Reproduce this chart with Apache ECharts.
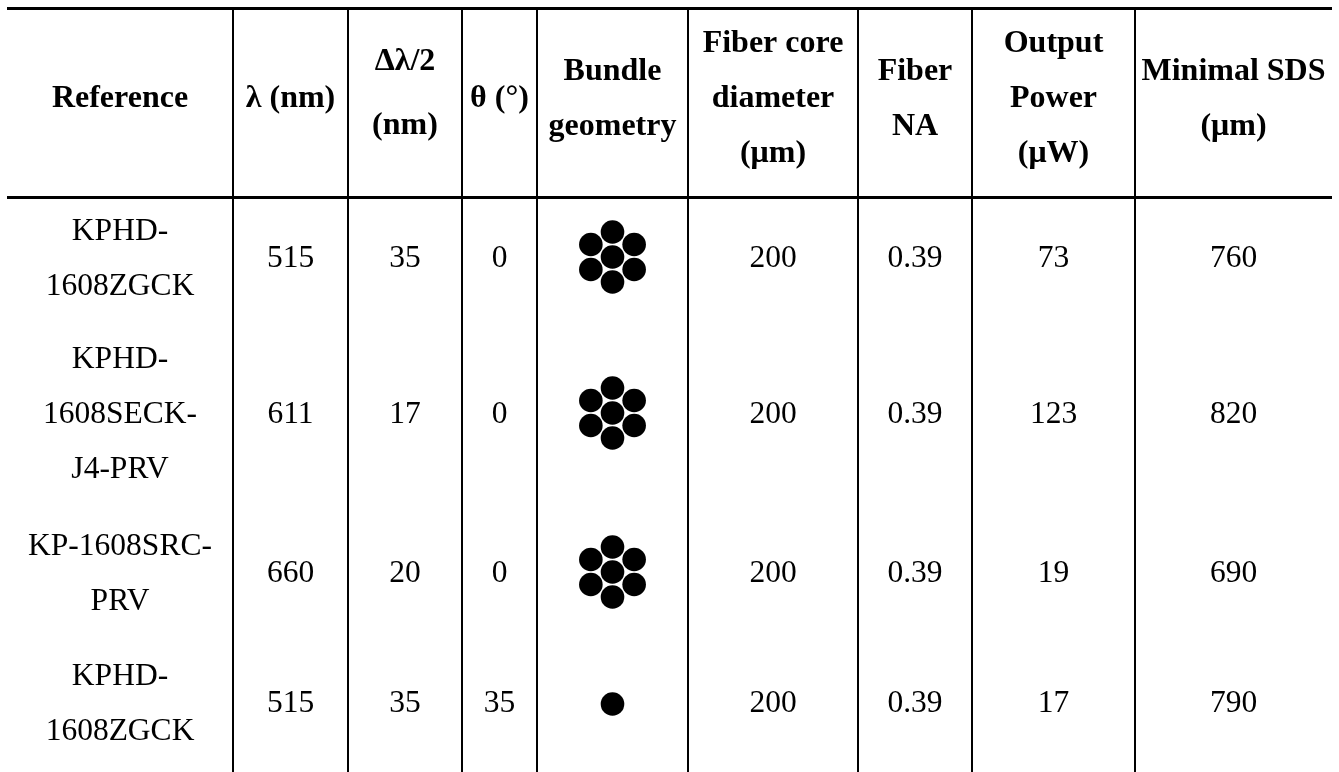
<!DOCTYPE html>
<html>
<head>
<meta charset="utf-8">
<script src="https://cdn.jsdelivr.net/npm/echarts@6/dist/echarts.min.js"></script>
<style>
html,body{margin:0;padding:0;background:#fff;}
#chart{width:1339px;height:772px;}
</style>
</head>
<body>
<div id="chart"></div>
<script>
// ---------- data ----------
const headers = ['Reference', 'λ (nm)', 'Δλ/2\n(nm)', 'θ (°)', 'Bundle\ngeometry',
  'Fiber core\ndiameter\n(μm)', 'Fiber\nNA', 'Output\nPower\n(μW)', 'Minimal SDS\n(μm)'];
const references = ['KPHD-\n1608ZGCK', 'KPHD-\n1608SECK-\nJ4-PRV', 'KP-1608SRC-\nPRV', 'KPHD-\n1608ZGCK'];
const wavelengths = [515, 611, 660, 515];
const halfWidths = [35, 17, 20, 35];
const angles = [0, 0, 0, 35];
const bundleFibers = [7, 7, 7, 1];
const coreDiameters = [200, 200, 200, 200];
const fiberNA = [0.39, 0.39, 0.39, 0.39];
const outputPowers = [73, 123, 19, 17];
const minimalSDS = [760, 820, 690, 790];

// ---------- layout ----------
const W = 1339, H = 772;
const colEdges = [7, 233, 348, 462, 537, 688, 858, 972, 1135, 1332];
const rowEdges = [10, 197, 333, 518, 648, 772];
const headerCenterY = 99;
const headerLineHeight = [55, 55, 64, 55, 55, 55, 55, 55, 55];
const headerCenterOverride = {2: 94};
const rowCenterY = [259, 415, 574, 704];
const iconCenterY = [257, 413, 572, 704];
const bodyLineHeight = 55;
const FONT_FAMILY = "'Liberation Serif', 'Times New Roman', serif";
const HEADER_FONT_SIZE = 32;
const BODY_FONT_SIZE = 31.5;

const bodyColumns = [references, wavelengths, halfWidths, angles, null,
  coreDiameters, fiberNA, outputPowers, minimalSDS];

const colCenter = c => (colEdges[c] + colEdges[c + 1]) / 2;

// text cells
const cells = [];
headers.forEach((h, c) => {
  cells.push({
    value: [colCenter(c), headerCenterOverride[c] !== undefined ? headerCenterOverride[c] : headerCenterY],
    text: h, bold: true, lh: headerLineHeight[c]
  });
});
rowCenterY.forEach((y, r) => {
  bodyColumns.forEach((col, c) => {
    if (!col) return;
    cells.push({ value: [colCenter(c), y], text: String(col[r]), bold: false, lh: bodyLineHeight });
  });
});

// rules: [x1, y1, x2, y2, width]
const rules = [
  [colEdges[0], 8.5, colEdges[colEdges.length - 1], 8.5, 3],
  [colEdges[0], 197.5, colEdges[colEdges.length - 1], 197.5, 3]
];
for (let c = 1; c < colEdges.length - 1; c++) {
  rules.push([colEdges[c], rowEdges[0], colEdges[c], H, 2]);
}

// bundle icons
const bundles = iconCenterY.map((y, r) => [colCenter(4), y, bundleFibers[r]]);

const chart = echarts.init(document.getElementById('chart'), null, {renderer: 'canvas'});
chart.setOption({
  backgroundColor: '#fff',
  animation: false,
  grid: {left: 0, right: 0, top: 0, bottom: 0},
  xAxis: {type: 'value', min: 0, max: W, show: false},
  yAxis: {type: 'value', min: 0, max: H, inverse: true, show: false},
  series: [
    {
      type: 'custom',
      silent: true,
      clip: false,
      data: rules,
      renderItem: (params, api) => {
        const p1 = api.coord([api.value(0), api.value(1)]);
        const p2 = api.coord([api.value(2), api.value(3)]);
        return {
          type: 'line',
          shape: {x1: p1[0], y1: p1[1], x2: p2[0], y2: p2[1]},
          style: {stroke: '#000', lineWidth: api.value(4)}
        };
      }
    },
    {
      type: 'custom',
      silent: true,
      clip: false,
      data: cells.map(c => c.value),
      renderItem: (params, api) => {
        const cell = cells[params.dataIndex];
        const p = api.coord([api.value(0), api.value(1)]);
        const size = cell.bold ? HEADER_FONT_SIZE : BODY_FONT_SIZE;
        return {
          type: 'text',
          x: p[0], y: p[1],
          style: {
            text: cell.text,
            fill: '#000',
            font: (cell.bold ? 'bold ' : '') + size + 'px ' + FONT_FAMILY,
            align: 'center', verticalAlign: 'middle',
            textAlign: 'center', textVerticalAlign: 'middle',
            lineHeight: cell.lh
          }
        };
      }
    },
    {
      type: 'custom',
      silent: true,
      clip: false,
      data: bundles,
      renderItem: (params, api) => {
        const c = api.coord([api.value(0), api.value(1)]);
        const n = api.value(2);
        const spacing = api.size([25, 0])[0];
        const r = api.size([11.8, 0])[0];
        const children = [{type: 'circle', shape: {cx: c[0], cy: c[1], r: r}, style: {fill: '#000'}}];
        if (n === 7) {
          for (let k = 0; k < 6; k++) {
            const a = Math.PI / 2 + k * Math.PI / 3;
            children.push({
              type: 'circle',
              shape: {cx: c[0] + spacing * Math.cos(a), cy: c[1] - spacing * Math.sin(a), r: r},
              style: {fill: '#000'}
            });
          }
        }
        return {type: 'group', children: children};
      }
    }
  ]
});
</script>
</body>
</html>
